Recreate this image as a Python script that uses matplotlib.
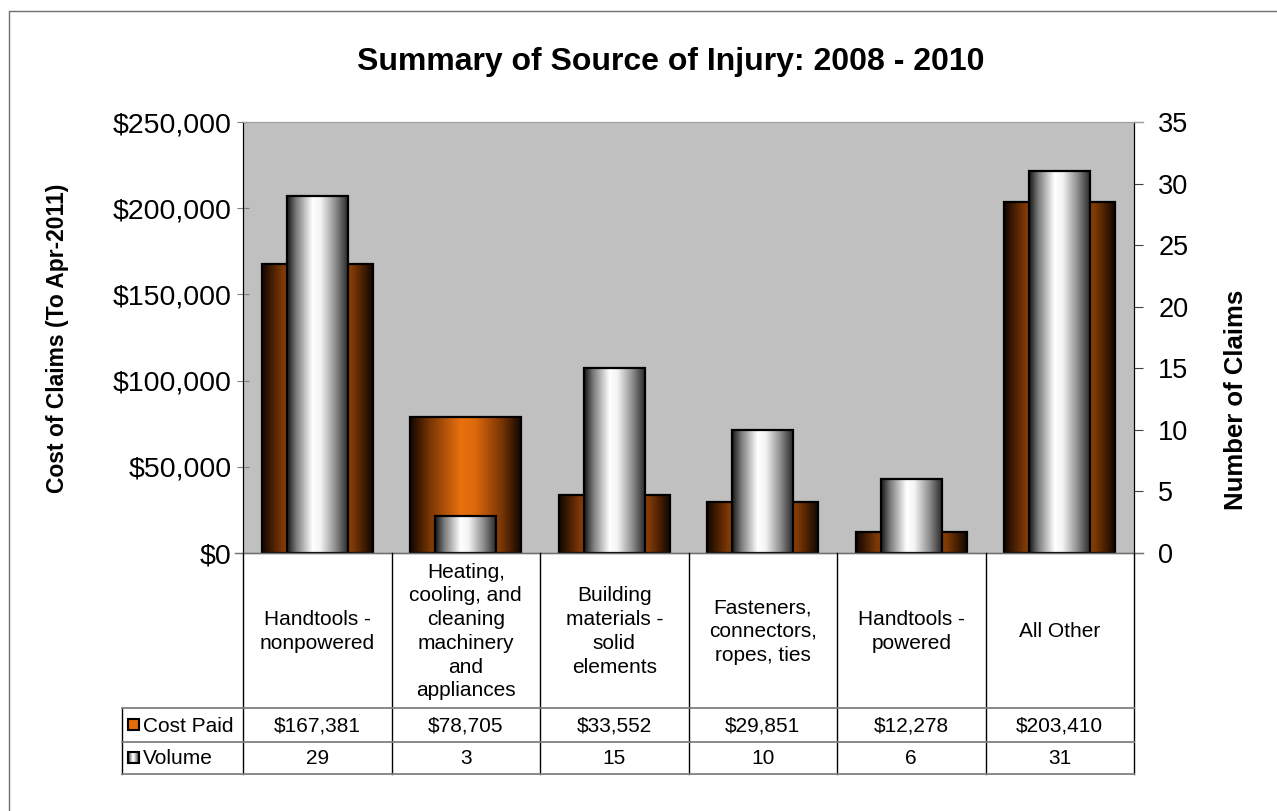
import numpy as np
import matplotlib
matplotlib.use("Agg")
from matplotlib import pyplot as plt
from matplotlib.colors import LinearSegmentedColormap
from matplotlib.patches import Rectangle

plt.rcParams['font.family'] = ['Liberation Sans', 'DejaVu Sans']

# data
categories = ["Handtools -\nnonpowered",
              "Heating,\ncooling, and\ncleaning\nmachinery\nand\nappliances",
              "Building\nmaterials -\nsolid\nelements",
              "Fasteners,\nconnectors,\nropes, ties",
              "Handtools -\npowered",
              "All Other"]
cost_paid = [167381, 78705, 33552, 29851, 12278, 203410]
volume = [29, 3, 15, 10, 6, 31]
cost_labels = ["$167,381", "$78,705", "$33,552", "$29,851", "$12,278", "$203,410"]

W, H = 1277, 811
fig = plt.figure(figsize=(W / 100, H / 100), dpi=100)

# plot area in pixels
px_l, px_r, px_t, px_b = 243, 1134, 122, 553
ax = fig.add_axes([px_l / W, 1 - px_b / H, (px_r - px_l) / W, (px_b - px_t) / H])
ax.set_facecolor('#c0c0c0')
ax2 = ax.twinx()

orange_cm = LinearSegmentedColormap.from_list("org", [
    (0.0, '#120600'), (0.18, '#7a3604'), (0.45, '#e8700e'),
    (0.58, '#de690c'), (0.82, '#7a3604'), (1.0, '#0e0400')])
white_cm = LinearSegmentedColormap.from_list("wht", [
    (0.0, '#151515'), (0.15, '#7a7a7a'), (0.42, '#ffffff'),
    (0.55, '#f4f4f4'), (0.8, '#8c8c8c'), (1.0, '#2a2a2a')])
grad = np.linspace(0, 1, 256).reshape(1, -1)

x = np.arange(len(categories))


def gradient_bars(axis, values, width, cmap):
    bars = axis.bar(x, values, width, color='none', edgecolor='black',
                    linewidth=1.6, zorder=3)
    for b in bars:
        x0 = b.get_x()
        im = axis.imshow(grad, cmap=cmap, aspect='auto', zorder=2,
                         extent=(x0, x0 + b.get_width(), 0, b.get_height()))
        im.set_clip_path(b)
    return bars


gradient_bars(ax, cost_paid, 0.75, orange_cm)
gradient_bars(ax2, volume, 0.41, white_cm)

ax.set_xlim(-0.5, len(categories) - 0.5)
ax.set_ylim(0, 250000)
ax2.set_ylim(0, 35)
ax.set_xticks([])
ax.set_yticks(np.arange(0, 250001, 50000))
ax.set_yticklabels(["${:,}".format(v) for v in range(0, 250001, 50000)])
ax2.set_yticks(np.arange(0, 36, 5))

ax.tick_params(axis='y', direction='inout', length=8, color='#808080',
               labelsize=20.5, pad=4)
ax2.tick_params(axis='y', direction='out', length=6.5, color='#404040',
                labelsize=19.5, pad=11)

for a in (ax, ax2):
    a.spines['top'].set_color('#a0a0a0')
    a.spines['bottom'].set_color('#606060')
    a.spines['left'].set_color('black')
    a.spines['right'].set_color('black')

# overlay in pixel coords for title, axis titles, table and border
ov = fig.add_axes([0, 0, 1, 1], zorder=5)
ov.axis('off')
ov.patch.set_visible(False)

ov.text(671, 62, "Summary of Source of Injury: 2008 - 2010", fontsize=23,
        fontweight='bold', ha='center', va='center')
ov.text(58, 338, "Cost of Claims (To Apr-2011)", fontsize=16.5,
        fontweight='bold', ha='center', va='center', rotation=90)
ov.text(1236, 400, "Number of Claims", fontsize=18.5,
        fontweight='bold', ha='center', va='center', rotation=90)

# outer border
ov.plot([9, 9, W + 5], [H + 5, 11, 11], color='#707070', lw=1)

# zero line extensions
ov.plot([235, 1143], [553, 553], color='#707070', lw=1)
ov.plot([1134, 1143], [122, 122], color='#a0a0a0', lw=1)

cw = (px_r - px_l) / len(categories)
row_lbl_b, row1_b, row2_b = 708, 742, 774
leg_l = 122

# vertical lines
for i in range(len(categories) + 1):
    xe = px_l + i * cw
    ov.plot([xe, xe], [553, row2_b], color='black', lw=1)
ov.plot([leg_l, leg_l], [row_lbl_b, row2_b], color='black', lw=1)
# horizontal lines
for yy in (row_lbl_b, row1_b, row2_b):
    ov.plot([leg_l, px_r], [yy, yy], color='#808080', lw=1.3)

for i, cat in enumerate(categories):
    cx = px_l + (i + 0.5) * cw
    ov.text(cx, (553 + row_lbl_b) / 2 + 1, cat, ha='center', va='center',
            fontsize=15, linespacing=1.32)
    ov.text(cx, (row_lbl_b + row1_b) / 2 + 1, cost_labels[i], ha='center',
            va='center', fontsize=15)
    ov.text(cx, (row1_b + row2_b) / 2 + 1, str(volume[i]), ha='center',
            va='center', fontsize=15)

# legend keys
ov.add_patch(Rectangle((128, 719), 11, 11, facecolor='#e46c0a',
                       edgecolor='black', lw=1.5))
ov.imshow(grad, cmap=white_cm, aspect='auto', extent=(128, 139, 763, 752),
          zorder=4)
ov.add_patch(Rectangle((128, 752), 11, 11, facecolor='none',
                       edgecolor='black', lw=1.5, zorder=5))
ov.text(143, (row_lbl_b + row1_b) / 2 + 1, "Cost Paid", ha='left', va='center',
        fontsize=15)
ov.text(143, (row1_b + row2_b) / 2 + 1, "Volume", ha='left', va='center',
        fontsize=15)
ov.set_xlim(0, W)
ov.set_ylim(H, 0)

fig.savefig("out.png", dpi=100)
